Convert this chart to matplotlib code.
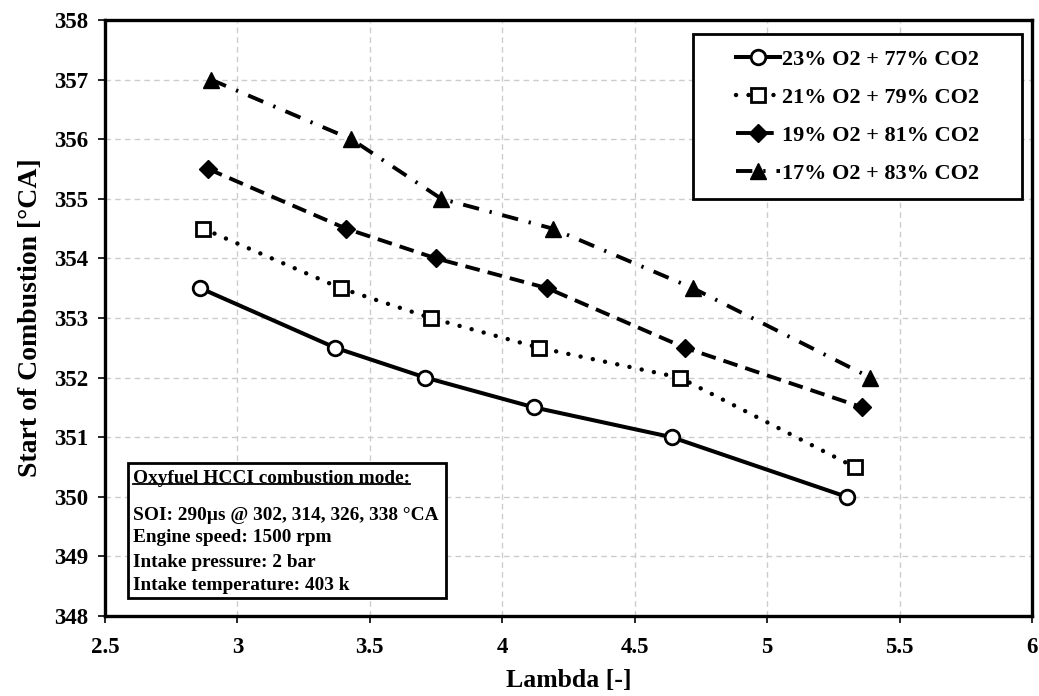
import matplotlib
matplotlib.use("Agg")
import matplotlib.pyplot as plt
from matplotlib.lines import Line2D
from matplotlib.patches import Rectangle

plt.rcParams['font.family'] = ['Liberation Serif', 'DejaVu Serif']
plt.rcParams['font.weight'] = 'bold'

# data
lam_23 = [2.86, 3.37, 3.71, 4.12, 4.64, 5.30]
soc_23 = [353.5, 352.5, 352.0, 351.5, 351.0, 350.0]
lam_21 = [2.87, 3.39, 3.73, 4.14, 4.67, 5.33]
soc_21 = [354.5, 353.5, 353.0, 352.5, 352.0, 350.5]
lam_19 = [2.89, 3.41, 3.75, 4.17, 4.69, 5.36]
soc_19 = [355.5, 354.5, 354.0, 353.5, 352.5, 351.5]
lam_17 = [2.90, 3.43, 3.77, 4.19, 4.72, 5.39]
soc_17 = [357.0, 356.0, 355.0, 354.5, 353.5, 352.0]

labels = ['23% O2 + 77% CO2', '21% O2 + 79% CO2',
          '19% O2 + 81% CO2', '17% O2 + 83% CO2']

info_title = 'Oxyfuel HCCI combustion mode:'
info_lines = ['SOI: 290\u00b5s @ 302, 314, 326, 338 \u00b0CA',
              'Engine speed: 1500 rpm',
              'Intake pressure: 2 bar',
              'Intake temperature: 403 k']

fig = plt.figure(figsize=(10.39, 6.96), dpi=100)
ax = fig.add_axes([105 / 1039, 80 / 696, 927 / 1039, 596 / 696])

ax.plot(lam_23, soc_23, color='black', lw=2.9, ls='-', marker='o', ms=10.5,
        mfc='white', mec='black', mew=2, label=labels[0], zorder=3)
ax.plot(lam_21, soc_21, color='black', lw=3.2, ls=(0, (0.01, 2.8)),
        dash_capstyle='round', marker='s', ms=10, mfc='white', mec='black',
        mew=2, label=labels[1], zorder=3)
ax.plot(lam_19, soc_19, color='black', lw=2.8, ls=(0, (3.8, 2.1)),
        marker='D', ms=9, mfc='black', mec='black', label=labels[2], zorder=3)
ax.plot(lam_17, soc_17, color='black', lw=2.8, ls=(0, (4.2, 2.8, 0.6, 2.8)),
        marker='^', ms=11, mfc='black', mec='black', label=labels[3], zorder=3)

ax.set_xlim(2.5, 6)
ax.set_ylim(348, 358)
ax.set_xticks([2.5, 3, 3.5, 4, 4.5, 5, 5.5, 6])
ax.set_xticklabels(['2.5', '3', '3.5', '4', '4.5', '5', '5.5', '6'])
ax.set_yticks(range(348, 359))
ax.tick_params(labelsize=16.5, length=5, width=1.2, direction='out')
ax.tick_params(axis='x', pad=10)
ax.tick_params(axis='y', pad=7)
ax.grid(True, color='#cccccc', ls=(0, (4, 3)), lw=1)
for sp in ax.spines.values():
    sp.set_linewidth(2.4)
    sp.set_color('black')

ax.set_xlabel('Lambda [-]', fontsize=18.5, fontweight='bold', labelpad=8)
ax.set_ylabel('Start of Combustion [\u00b0CA]', fontsize=20,
              fontweight='bold', labelpad=8)

# legend with its own frame
ax.add_patch(Rectangle((588 / 927, 417 / 596), 329 / 927, 165 / 596,
                       transform=ax.transAxes, fc='white', ec='black',
                       lw=2, zorder=4))
leg = ax.legend(loc='center', bbox_to_anchor=(0.8118, 0.838), fontsize=16,
                handlelength=2.0, handletextpad=0.1, labelspacing=0.78,
                frameon=False)
leg.set_zorder(5)

# info box
ax.add_patch(Rectangle((0.025, 0.030), 0.343, 0.227, transform=ax.transAxes,
                       fc='white', ec='black', lw=2, zorder=4))
tx = 0.0302
fs_info = 13.9
t_title = ax.text(tx, 0.2315, info_title, transform=ax.transAxes,
                  fontsize=fs_info, fontweight='bold', va='center', ha='left',
                  zorder=5)
for yy, s in zip([0.169, 0.1309, 0.0906, 0.0520], info_lines):
    ax.text(tx, yy, s, transform=ax.transAxes, fontsize=fs_info,
            fontweight='bold', va='center', ha='left', zorder=5)

# underline the title line
fig.canvas.draw()
bb = t_title.get_window_extent(fig.canvas.get_renderer())
inv = fig.transFigure.inverted()
(x0, y0) = inv.transform((bb.x0, bb.y0 + 3))
(x1, _) = inv.transform((bb.x1, bb.y0 + 3))
fig.add_artist(Line2D([x0, x1], [y0, y0], color='black', lw=1.3,
                      transform=fig.transFigure, zorder=6))

fig.savefig('out.png', dpi=100)
